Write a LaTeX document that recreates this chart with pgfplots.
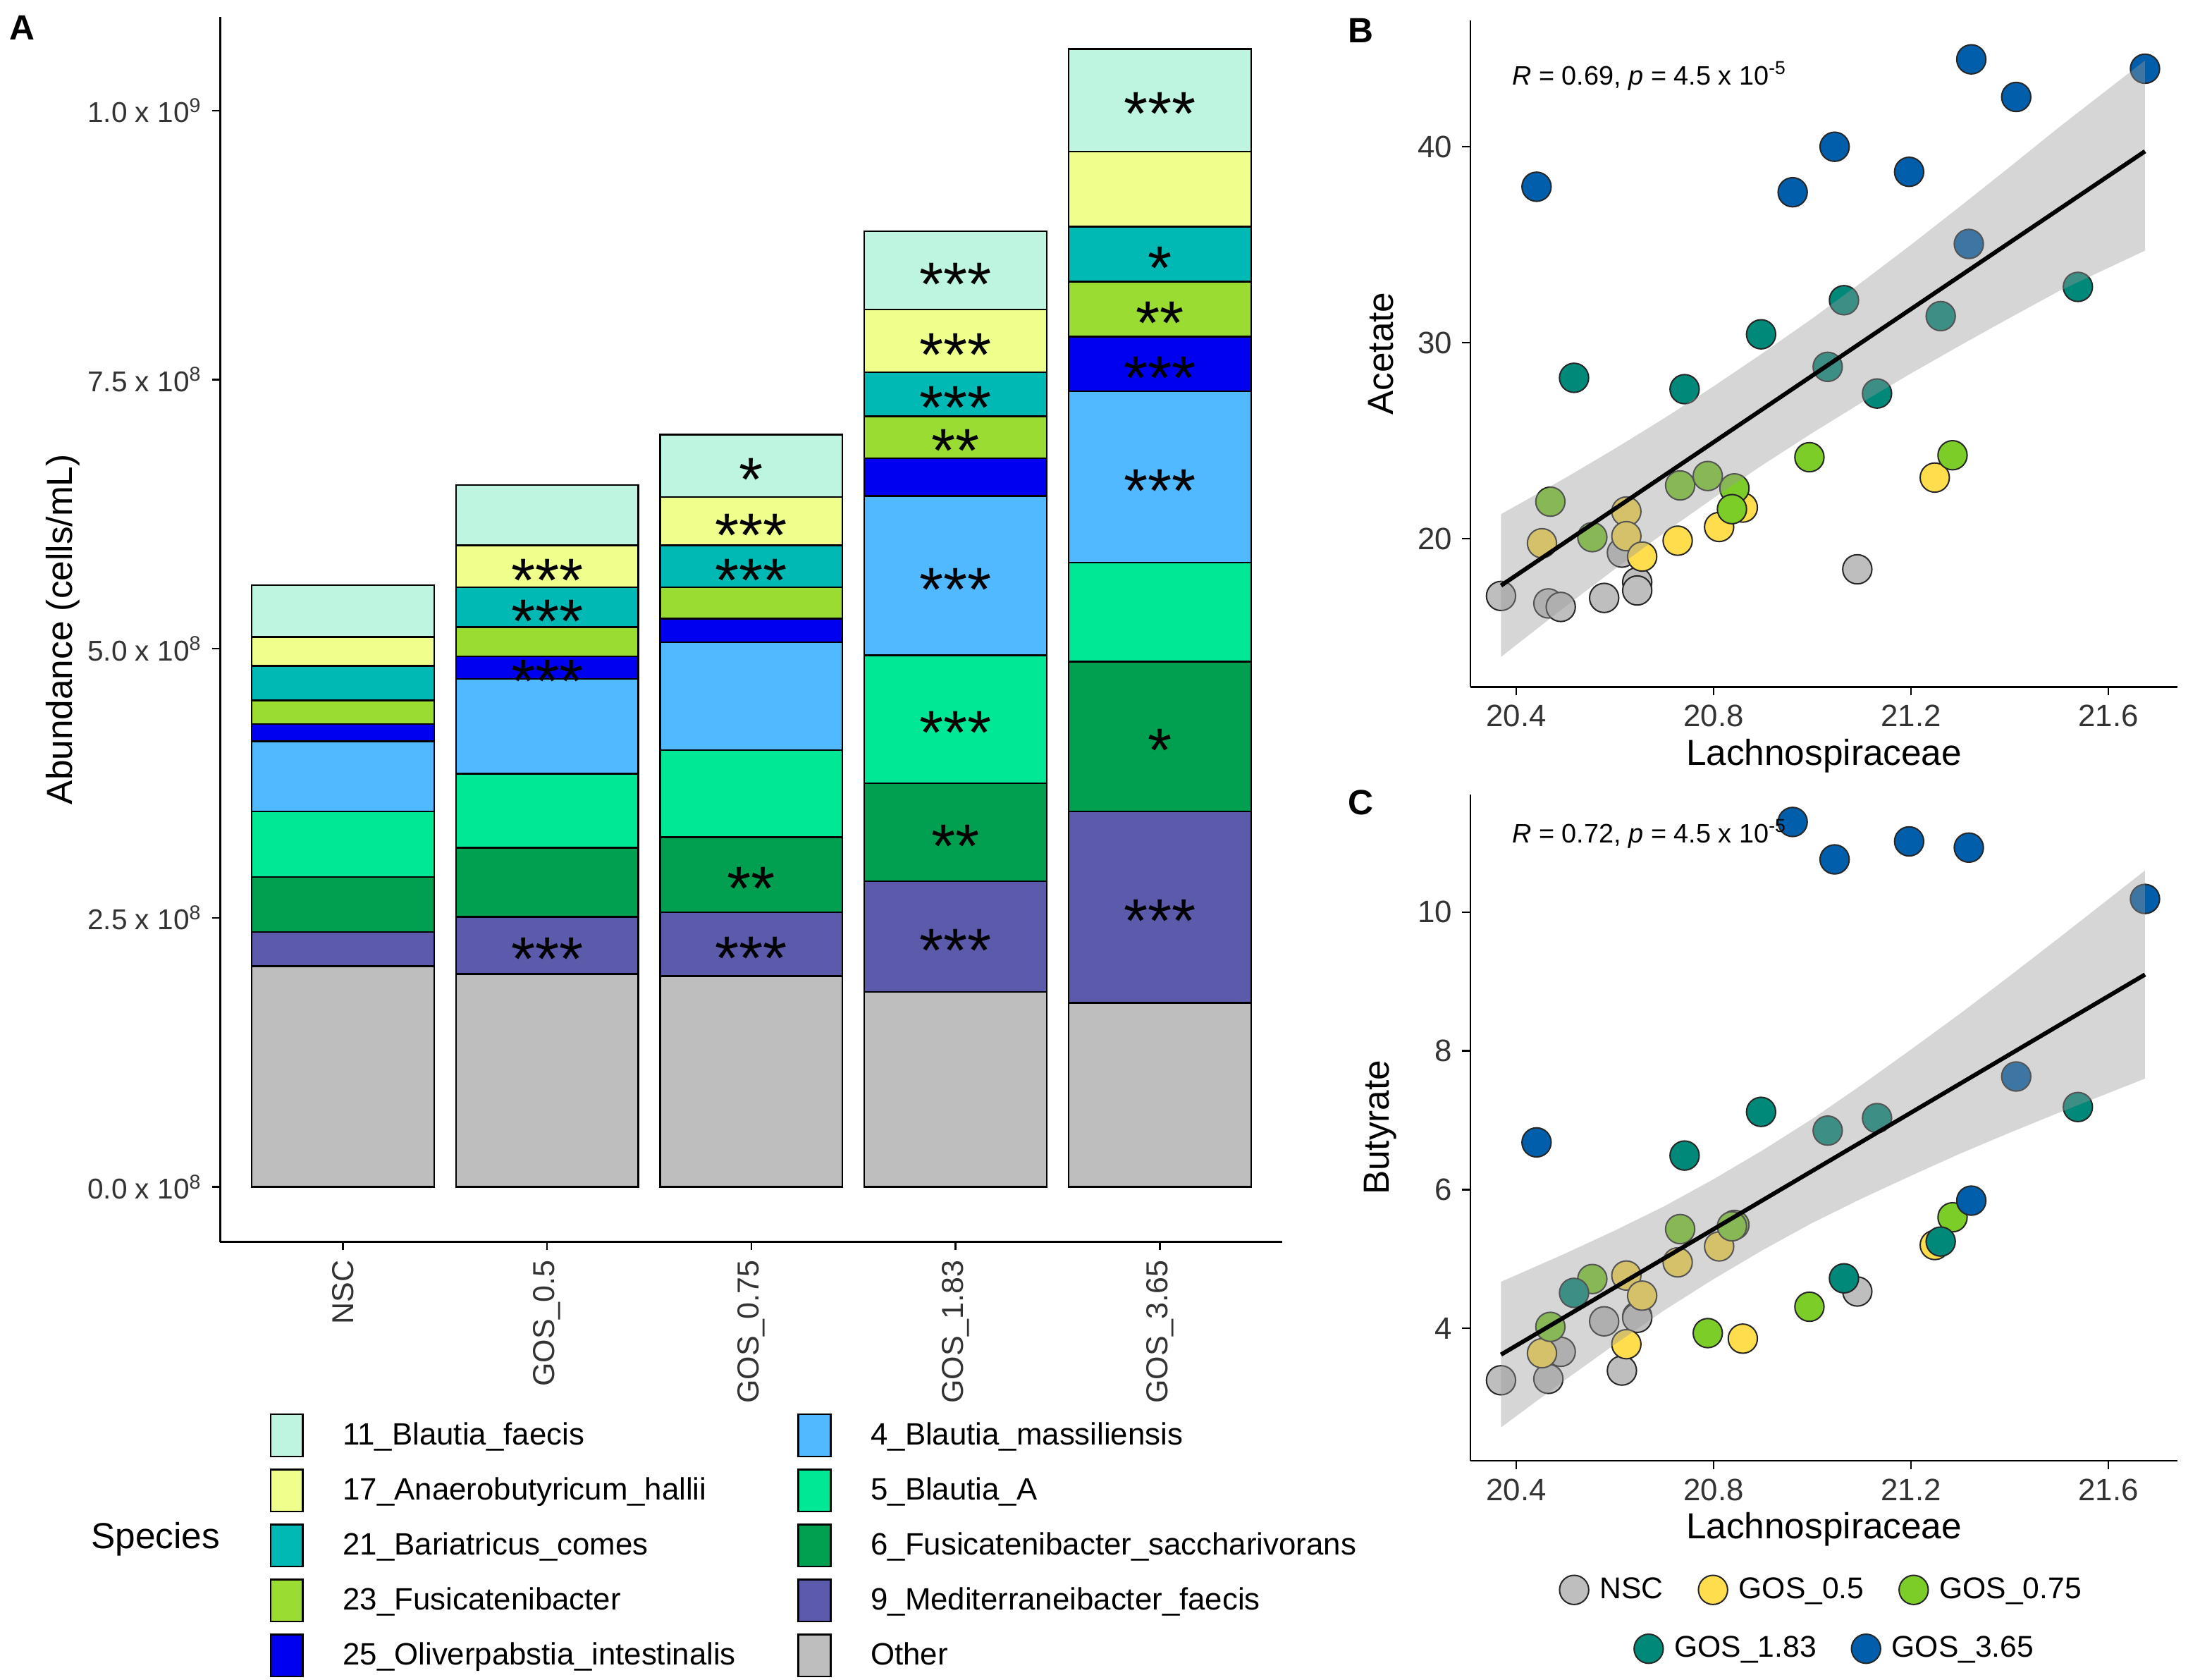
\documentclass[border=0pt]{standalone}
\usepackage{fontspec}
\setmainfont{Liberation Sans}
\usepackage{pgfplots}
\usepackage{pgfplotstable}
\pgfplotsset{compat=1.18}

% species colours
\definecolor{cBf}{HTML}{BEF5E1}
\definecolor{cAn}{HTML}{F0FF8C}
\definecolor{cBa}{HTML}{00B9B4}
\definecolor{cFu}{HTML}{9BDC32}
\definecolor{cOl}{HTML}{0000F0}
\definecolor{cBm}{HTML}{50B9FF}
\definecolor{cBA}{HTML}{00E896}
\definecolor{cFs}{HTML}{00A050}
\definecolor{cMe}{HTML}{5C5AAA}
\definecolor{cOt}{HTML}{BEBEBE}
% group colours
\definecolor{gNSC}{HTML}{BEBEBE}
\definecolor{g05}{HTML}{FFDD4D}
\definecolor{g075}{HTML}{7DCD28}
\definecolor{g183}{HTML}{008978}
\definecolor{g365}{HTML}{005EAA}

% abundance, units of 1e8 cells/mL
\pgfplotstableread{
x Other Medit Fsacch BlautiaA Bmass Oliver Fus23 Bari Anaero Bfaecis
0 2.05 0.32 0.51 0.61 0.65 0.16 0.22 0.32 0.27 0.48
1 1.98 0.53 0.64 0.69 0.88 0.21 0.27 0.37 0.39 0.56
2 1.96 0.59 0.70 0.81 1.00 0.22 0.29 0.39 0.45 0.58
3 1.81 1.03 0.91 1.19 1.48 0.35 0.39 0.41 0.58 0.73
4 1.71 1.78 1.39 0.92 1.59 0.51 0.51 0.51 0.70 0.95
}\abund

% lach = Lachnospiraceae, ac = acetate, bu = butyrate
\pgfplotstableread{
lach ac bu
20.369 17.08 3.25
20.465 16.70 3.27
20.490 16.52 3.66
20.578 16.98 4.10
20.614 19.29 3.39
20.645 17.78 4.17
20.645 17.36 4.15
21.091 18.44 4.53
}\nsc
\pgfplotstableread{
lach ac bu
20.452 19.77 3.64
20.623 21.39 4.76
20.623 20.13 3.77
20.655 19.09 4.47
20.727 19.90 4.95
20.811 20.60 5.18
20.859 21.59 3.85
21.248 23.12 5.20
}\gosa
\pgfplotstableread{
lach ac bu
20.469 21.89 4.02
20.554 20.08 4.71
20.732 22.72 5.43
20.788 23.20 3.93
20.842 22.57 5.49
20.837 21.51 5.47
20.994 24.16 4.31
21.284 24.26 5.60
}\gosb
\pgfplotstableread{
lach ac bu
20.517 28.21 4.51
20.741 27.63 6.49
20.896 30.43 7.12
21.064 32.17 4.72
21.031 28.77 6.85
21.260 31.36 5.25
21.131 27.41 7.03
21.538 32.85 7.19
}\gosc
\pgfplotstableread{
lach ac bu
20.441 37.96 6.68
20.960 37.68 11.30
21.045 40.00 10.76
21.196 38.72 11.02
21.322 44.46 5.84
21.413 42.54 7.63
21.674 43.98 10.19
21.317 35.04 10.93
}\gosd

\pgfplotsset{
  classic/.style={
    scale only axis,
    axis x line*=bottom, axis y line*=left,
    axis line style={line width=0.6pt, -},
    tick align=outside, major tick length=3pt,
    tick style={line width=0.6pt, black},
    ticklabel style={font=\fontsize{11}{13}\selectfont, text=black!80},
    /pgf/number format/assume math mode=true,
  },
  ylab/.style={every axis y label/.style={at={(axis description cs:0,0.5)},
      xshift=-#1, rotate=90, anchor=center, font=\fontsize{12.9}{15}\selectfont}},
  xlab/.style={every axis x label/.style={at={(axis description cs:0.5,0)},
      yshift=-#1, anchor=center, font=\fontsize{12.9}{15}\selectfont}},
  pt/.style={only marks, mark=*, mark size=5.2pt,
    mark options={fill=#1, draw=black!85, line width=0.5pt}},
  sclegend/.style={
    legend style={draw=none, fill=none, inner sep=0pt, row sep=0pt,
      nodes={inner sep=0pt}, font=\fontsize{10.7}{12}\selectfont,
      /tikz/every odd column/.append style={column sep=4pt},
      /tikz/every even column/.append style={column sep=12.5pt}},
    legend image code/.code={\draw[##1] plot coordinates {(0pt,0pt)};},
  },
  barframe/.style={scale only axis,
    at={(78.5pt,-442.5pt)}, anchor=south west,
    width=378.5pt, height=436.5pt,
    xmin=-0.6, xmax=4.6, ymin=-0.51, ymax=10.87},
}

\begin{document}
\begin{tikzpicture}[
  star/.style={font=\fontsize{22}{22}\selectfont, anchor=base, yshift=-12.5pt, inner sep=0pt},
  panel/.style={font=\bfseries\fontsize{12.5}{14}\selectfont},
]
\useasboundingbox (0pt,0pt) rectangle (784pt,-598.6pt);

% ---------------- A
\begin{axis}[classic, barframe,
  ybar stacked, bar width=65pt,
  xtick={0,1,2,3,4},
  xticklabels={NSC, GOS\_0.5, GOS\_0.75, GOS\_1.83, GOS\_3.65},
  xticklabel style={rotate=90, anchor=east, font=\fontsize{10.8}{12}\selectfont},
  ytick={0,2.5,5,7.5,10},
  yticklabels={0.0 x 10\textsuperscript{8}, 2.5 x 10\textsuperscript{8}, 5.0 x 10\textsuperscript{8}, 7.5 x 10\textsuperscript{8}, 1.0 x 10\textsuperscript{9}},
  yticklabel style={font=\fontsize{10.2}{12}\selectfont},
  ylabel={Abundance (cells/mL)}, ylab=56pt,
  legend columns=2, legend cell align=left,
  legend style={at={(0.046,-0.1397)}, anchor=north west, draw=none, fill=none,
    inner sep=0pt, row sep=4pt, column sep=0pt, nodes={inner sep=0pt},
    font=\fontsize{11}{13}\selectfont,
    /tikz/every odd column/.append style={column sep=14pt}},
  legend image code/.code={\draw[#1, line width=0.6pt] (0pt,-7.5pt) rectangle (11.5pt,7.5pt);},
]
\addlegendimage{fill=cBf, draw=black}\addlegendentry{\makebox[162pt][l]{11\_Blautia\_faecis}}
\addlegendimage{fill=cBm, draw=black}\addlegendentry{4\_Blautia\_massiliensis}
\addlegendimage{fill=cAn, draw=black}\addlegendentry{\makebox[162pt][l]{17\_Anaerobutyricum\_hallii}}
\addlegendimage{fill=cBA, draw=black}\addlegendentry{5\_Blautia\_A}
\addlegendimage{fill=cBa, draw=black}\addlegendentry{\makebox[162pt][l]{21\_Bariatricus\_comes}}
\addlegendimage{fill=cFs, draw=black}\addlegendentry{6\_Fusicatenibacter\_saccharivorans}
\addlegendimage{fill=cFu, draw=black}\addlegendentry{\makebox[162pt][l]{23\_Fusicatenibacter}}
\addlegendimage{fill=cMe, draw=black}\addlegendentry{9\_Mediterraneibacter\_faecis}
\addlegendimage{fill=cOl, draw=black}\addlegendentry{\makebox[162pt][l]{25\_Oliverpabstia\_intestinalis}}
\addlegendimage{fill=cOt, draw=black}\addlegendentry{Other}

\addplot[fill=cOt, draw=black, line width=0.6pt] table[x=x, y=Other]{\abund};
\addplot[fill=cMe, draw=black, line width=0.6pt] table[x=x, y=Medit]{\abund};
\addplot[fill=cFs, draw=black, line width=0.6pt] table[x=x, y=Fsacch]{\abund};
\addplot[fill=cBA, draw=black, line width=0.6pt] table[x=x, y=BlautiaA]{\abund};
\addplot[fill=cBm, draw=black, line width=0.6pt] table[x=x, y=Bmass]{\abund};
\addplot[fill=cOl, draw=black, line width=0.6pt] table[x=x, y=Oliver]{\abund};
\addplot[fill=cFu, draw=black, line width=0.6pt] table[x=x, y=Fus23]{\abund};
\addplot[fill=cBa, draw=black, line width=0.6pt] table[x=x, y=Bari]{\abund};
\addplot[fill=cAn, draw=black, line width=0.6pt] table[x=x, y=Anaero]{\abund};
\addplot[fill=cBf, draw=black, line width=0.6pt] table[x=x, y=Bfaecis]{\abund};
\end{axis}

% significance marks, drawn over the bars
\begin{axis}[barframe, hide axis]
\node[star] at (axis cs:1,2.245) {***};
\node[star] at (axis cs:1,4.825) {***};
\node[star] at (axis cs:1,5.385) {***};
\node[star] at (axis cs:1,5.765) {***};
\node[star] at (axis cs:2,2.255) {***};
\node[star] at (axis cs:2,2.90) {**};
\node[star] at (axis cs:2,5.765) {***};
\node[star] at (axis cs:2,6.185) {***};
\node[star] at (axis cs:2,6.70) {*};
\node[star] at (axis cs:3,2.325) {***};
\node[star] at (axis cs:3,3.295) {**};
\node[star] at (axis cs:3,4.345) {***};
\node[star] at (axis cs:3,5.68) {***};
\node[star] at (axis cs:3,6.965) {**};
\node[star] at (axis cs:3,7.365) {***};
\node[star] at (axis cs:3,7.86) {***};
\node[star] at (axis cs:3,8.515) {***};
\node[star] at (axis cs:4,2.60) {***};
\node[star] at (axis cs:4,4.185) {*};
\node[star] at (axis cs:4,6.595) {***};
\node[star] at (axis cs:4,7.645) {***};
\node[star] at (axis cs:4,8.155) {**};
\node[star] at (axis cs:4,8.665) {*};
\node[star] at (axis cs:4,10.095) {***};
\end{axis}

% ---------------- B
\begin{axis}[classic, clip marker paths=true,
  at={(524pt,-244.75pt)}, anchor=south west,
  width=252pt, height=237.5pt,
  xmin=20.307, xmax=21.74, ymin=12.44, ymax=46.45,
  xtick={20.4,20.8,21.2,21.6}, ytick={20,30,40},
  xlabel={Lachnospiraceae}, ylabel={Acetate}, ylab=32pt, xlab=24.5pt,
]
\addplot[pt=gNSC] table[x=lach, y=ac]{\nsc};
\addplot[pt=g05] table[x=lach, y=ac]{\gosa};
\addplot[pt=g075] table[x=lach, y=ac]{\gosb};
\addplot[pt=g183] table[x=lach, y=ac]{\gosc};
\addplot[pt=g365] table[x=lach, y=ac]{\gosd};
\addplot[fill=black!40, fill opacity=0.4, draw=none] coordinates {
  (20.369,21.25) (20.5,23.11) (20.6,24.60) (20.7,26.15) (20.8,27.78) (20.9,29.48)
  (21.0,31.24) (21.1,33.09) (21.2,35.00) (21.3,36.97) (21.4,38.97) (21.5,41.00) (21.674,44.40)
  (21.674,34.70) (21.5,32.64) (21.4,31.27) (21.3,29.87) (21.2,28.44) (21.1,26.95)
  (21.0,25.40) (20.9,23.78) (20.8,22.08) (20.7,20.31) (20.6,18.46) (20.5,16.55) (20.369,13.97)
} -- cycle;
\addplot[black, line width=1.5pt] coordinates {(20.369,17.61) (21.674,39.77)};
\node[anchor=west, font=\fontsize{9.5}{11}\selectfont] at (axis cs:20.372,43.6)
  {\textit{R} = 0.69, \textit{p} = 4.5 x 10\textsuperscript{-5}};
\end{axis}

% ---------------- C
\begin{axis}[classic, sclegend, clip marker paths=true,
  at={(524pt,-520.5pt)}, anchor=south west,
  width=252pt, height=237.5pt,
  xmin=20.307, xmax=21.74, ymin=2.089, ymax=11.70,
  xtick={20.4,20.8,21.2,21.6}, ytick={4,6,8,10},
  xlabel={Lachnospiraceae}, ylabel={Butyrate}, ylab=32pt, xlab=24.5pt,
  legend columns=3,
  legend style={at={(0.495,-0.1937)}, anchor=center},
]
\addplot[pt=gNSC] table[x=lach, y=bu]{\nsc};
\addlegendentry{NSC}
\addplot[pt=g05] table[x=lach, y=bu]{\gosa};
\addlegendentry{GOS\_0.5}
\addplot[pt=g075] table[x=lach, y=bu]{\gosb};
\addlegendentry{GOS\_0.75}
\addplot[pt=g183] table[x=lach, y=bu]{\gosc};
\addplot[pt=g365] table[x=lach, y=bu]{\gosd};
\addplot[fill=black!40, fill opacity=0.4, draw=none] coordinates {
  (20.369,4.67) (20.5,5.08) (20.6,5.41) (20.7,5.76) (20.8,6.15) (20.9,6.57)
  (21.0,7.02) (21.1,7.51) (21.2,8.02) (21.3,8.54) (21.4,9.08) (21.5,9.63) (21.674,10.60)
  (21.674,7.60) (21.5,7.11) (21.4,6.82) (21.3,6.52) (21.2,6.20) (21.1,5.87)
  (21.0,5.52) (20.9,5.13) (20.8,4.71) (20.7,4.26) (20.6,3.77) (20.5,3.26) (20.369,2.57)
} -- cycle;
\addplot[black, line width=1.5pt] coordinates {(20.369,3.62) (21.674,9.10)};
\node[anchor=west, font=\fontsize{9.5}{11}\selectfont] at (axis cs:20.372,11.13)
  {\textit{R} = 0.72, \textit{p} = 4.5 x 10\textsuperscript{-5}};
\end{axis}

% second legend row of the scatter panels
\begin{axis}[sclegend, scale only axis, hide axis,
  at={(524pt,-520.5pt)}, anchor=south west,
  width=252pt, height=237.5pt,
  xmin=0, xmax=1, ymin=0, ymax=1,
  legend columns=2,
  legend style={at={(0.514,-0.282)}, anchor=center},
]
\addlegendimage{pt=g183}\addlegendentry{GOS\_1.83}
\addlegendimage{pt=g365}\addlegendentry{GOS\_3.65}
\end{axis}

\node[anchor=west, font=\fontsize{12.9}{15}\selectfont] at (29pt,-548.5pt) {Species};
\node[panel] at (8pt,-10pt) {A};
\node[panel] at (485pt,-11pt) {B};
\node[panel] at (485pt,-286pt) {C};
\end{tikzpicture}
\end{document}
